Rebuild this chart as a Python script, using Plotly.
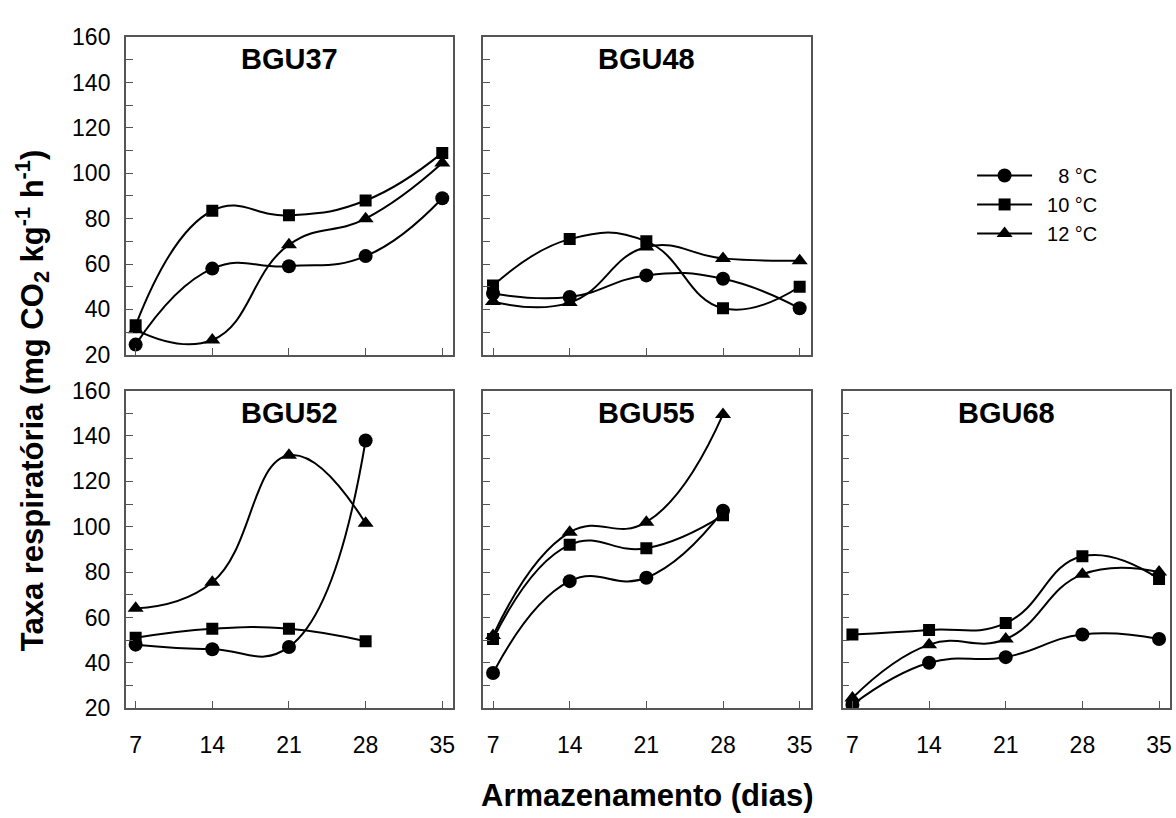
import plotly.graph_objects as go

days = [7, 14, 21, 28, 35]
temps = ["\u2002\u20078 °C", "\u200210 °C", "\u200212 °C"]
symbols = ["circle", "square", "triangle-up"]
msizes = [14, 12, 14]

panels = ["BGU37", "BGU48", "BGU52", "BGU55", "BGU68"]

bgu37_8 = [24.5, 58, 59, 63.5, 89]
bgu37_10 = [33, 83.5, 81.5, 88, 109]
bgu37_12 = [31, 26.5, 68.5, 80, 104.5]

bgu48_8 = [47, 45.5, 55, 53.5, 40.5]
bgu48_10 = [50.5, 71, 70, 40.5, 50]
bgu48_12 = [43.5, 43, 67.5, 62.5, 61.5]

bgu52_8 = [48, 46, 47, 138]
bgu52_10 = [51, 55, 55, 49.5]
bgu52_12 = [64, 75.5, 131.5, 101.5]

bgu55_8 = [35.5, 76, 77.5, 107]
bgu55_10 = [50.5, 92, 90.5, 105]
bgu55_12 = [52, 97.5, 102, 149.5]

bgu68_8 = [21.5, 40, 42.5, 52.5, 50.5]
bgu68_10 = [52.5, 54.5, 57.5, 87, 77]
bgu68_12 = [24.5, 48, 50.5, 79, 80]

data = [
    (bgu37_8, bgu37_10, bgu37_12),
    (bgu48_8, bgu48_10, bgu48_12),
    (bgu52_8, bgu52_10, bgu52_12),
    (bgu55_8, bgu55_10, bgu55_12),
    (bgu68_8, bgu68_10, bgu68_12),
]

W, H = 1176, 818
cols = [(126, 454), (484, 812), (844, 1172)]
rows = [(25, 353), (390, 718)]
pos = [(0, 0), (0, 1), (1, 0), (1, 1), (1, 2)]

FONT = "Liberation Sans, Arial, sans-serif"
FRAME = "#555555"

fig = go.Figure()
layout = dict(
    width=W, height=H,
    margin=dict(l=0, r=0, t=0, b=0),
    paper_bgcolor="white", plot_bgcolor="white",
    font=dict(family=FONT, color="black"),
    showlegend=True,
    legend=dict(x=0.828, y=0.8195, xanchor="left", yanchor="top",
                font=dict(size=20, family=FONT, color="black"),
                bgcolor="rgba(0,0,0,0)", tracegroupgap=0,
                itemwidth=55),
)
annotations = []

for i, (name, series) in enumerate(zip(panels, data)):
    r, c = pos[i]
    sfx = "" if i == 0 else str(i + 1)
    x0, x1 = cols[c]
    y0, y1 = rows[r]
    layout["xaxis" + sfx] = dict(
        domain=[x0 / W, x1 / W], anchor="y" + sfx,
        range=[6.1, 36], tickvals=days,
        showticklabels=(r == 1),
        ticks="inside", ticklen=7, tickcolor=FRAME, tickwidth=1.2,
        showline=True, linecolor=FRAME, linewidth=1.5, mirror=True,
        showgrid=False, zeroline=False,
        tickfont=dict(size=23, family=FONT, color="black"),
        ticklabelstandoff=15,
    )
    layout["yaxis" + sfx] = dict(
        domain=[1 - y1 / H, 1 - y0 / H], anchor="x" + sfx,
        range=[20, 160], dtick=20, tick0=20,
        showticklabels=(c == 0),
        ticks="inside", ticklen=7, tickcolor=FRAME, tickwidth=1.2,
        minor=dict(dtick=10, ticks="inside", ticklen=7, tickcolor=FRAME, tickwidth=1.2),
        showline=True, linecolor=FRAME, linewidth=1.5, mirror=True,
        showgrid=False, zeroline=False,
        tickfont=dict(size=23, family=FONT, color="black"),
        ticklabelstandoff=9,
    )
    for k, vals in enumerate(series):
        fig.add_trace(go.Scatter(
            x=days[:len(vals)], y=vals,
            xaxis="x" + sfx, yaxis="y" + sfx,
            mode="lines+markers",
            line=dict(color="black", width=2, shape="spline", smoothing=1.3),
            marker=dict(symbol=symbols[k], size=msizes[k], color="black"),
            name=temps[k], legendgroup=temps[k],
            showlegend=(i == 0),
        ))
    annotations.append(dict(
        text="<b>" + name + "</b>", xref="x" + sfx + " domain", yref="y" + sfx + " domain",
        x=0.5, y=1 - 23 / 328, xanchor="center", yanchor="middle",
        showarrow=False, font=dict(size=29, family=FONT, color="black"),
    ))

annotations.append(dict(
    text="<b>Armazenamento (dias)</b>", xref="paper", yref="paper",
    x=648 / W, y=1 - 808 / H, xanchor="center", yanchor="middle",
    showarrow=False, font=dict(size=31, family=FONT, color="black"),
))
annotations.append(dict(
    text="<b>Taxa respiratória (mg CO<sub>2</sub> kg<sup>-1</sup> h<sup>-1</sup>)</b>",
    xref="paper", yref="paper", x=32 / W, y=1 - 400 / H,
    xanchor="center", yanchor="middle", textangle=-90,
    showarrow=False, font=dict(size=31, family=FONT, color="black"),
))
layout["annotations"] = annotations
fig.update_layout(**layout)
fig.write_html("out.html")
